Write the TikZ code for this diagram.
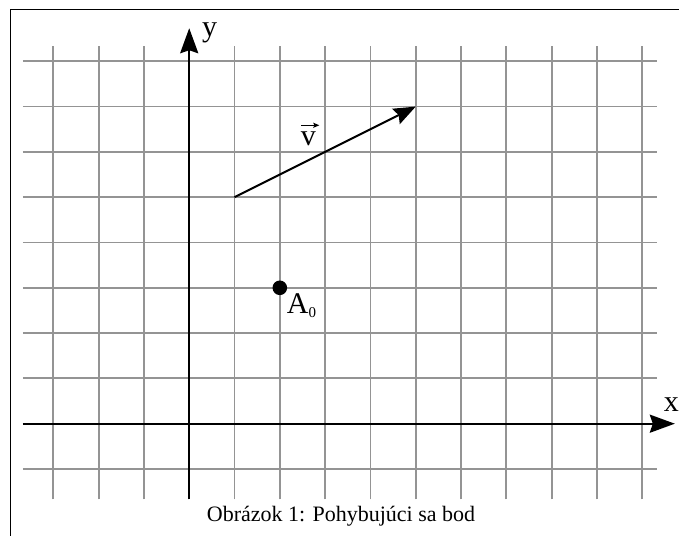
\documentclass[tikz,border=0pt]{standalone}
\usepackage{fontspec}
\setmainfont{Liberation Serif}
\usetikzlibrary{arrows.meta}
\begin{document}
\begin{tikzpicture}[x=45.3pt,y=45.3pt,
  gridline/.style={draw=black!42, line width=1.8pt},
  axisline/.style={draw=black, line width=2.3pt, -{Stealth[length=25pt,width=18pt,inset=3pt]}},
  vecline/.style={draw=black, line width=2pt, -{Stealth[length=22pt,width=17pt,inset=3pt]}},
  accentarrow/.style={draw=black, line width=1pt, -{Stealth[length=6pt,width=5pt,inset=1pt]}},
  lbl/.style={inner sep=0pt, font=\fontsize{30pt}{30pt}\selectfont},
  captext/.style={inner sep=0pt, font=\fontsize{22pt}{22pt}\selectfont}]
\useasboundingbox (-4.177,-2.479) rectangle (10.812,9.353);
% frame (only top and left edges visible)
\draw[line width=1.3pt] (-3.945,-2.7) -- (-3.945,9.143) -- (11,9.143);
% grid
\foreach \i in {-3,...,10} \draw[gridline] (\i,-1.67) -- (\i,8.33);
\foreach \j in {-1,...,8} \draw[gridline] (-3.67,\j) -- (10.33,\j);
% axes
\coordinate (xs) at (-3.67,0);
\coordinate (xe) at (10.72,0);
\coordinate (ys) at (0,-1.67);
\coordinate (ye) at (0,8.73);
\draw[axisline] (xs) -- (xe);
\draw[axisline] (ys) -- (ye);
\node[lbl, anchor=base] (xl) at (10.642,0.265) {x};
\node[lbl, anchor=base] (yl) at (0.448,8.548) {y};
% vector
\coordinate (v0) at (1,5);
\coordinate (v1) at (5,7);
\draw[vecline] (v0) -- (v1);
\node[lbl, anchor=base] (vl) at (2.63,6.147) {v};
\coordinate (va) at (2.468,6.587);
\coordinate (vb) at (2.872,6.587);
\draw[accentarrow] (va) -- (vb);
% point
\fill (2,3) circle[radius=7.3pt];
\node[lbl, anchor=base west] (al) at (2.151,2.437) {A\raisebox{-4.5pt}{\fontsize{15pt}{15pt}\selectfont 0}};
% caption
\node[captext, anchor=base west] (caption) at (0.386,-2.163) {Obrázok 1: Pohybujúci sa bod};
\end{tikzpicture}
\end{document}
